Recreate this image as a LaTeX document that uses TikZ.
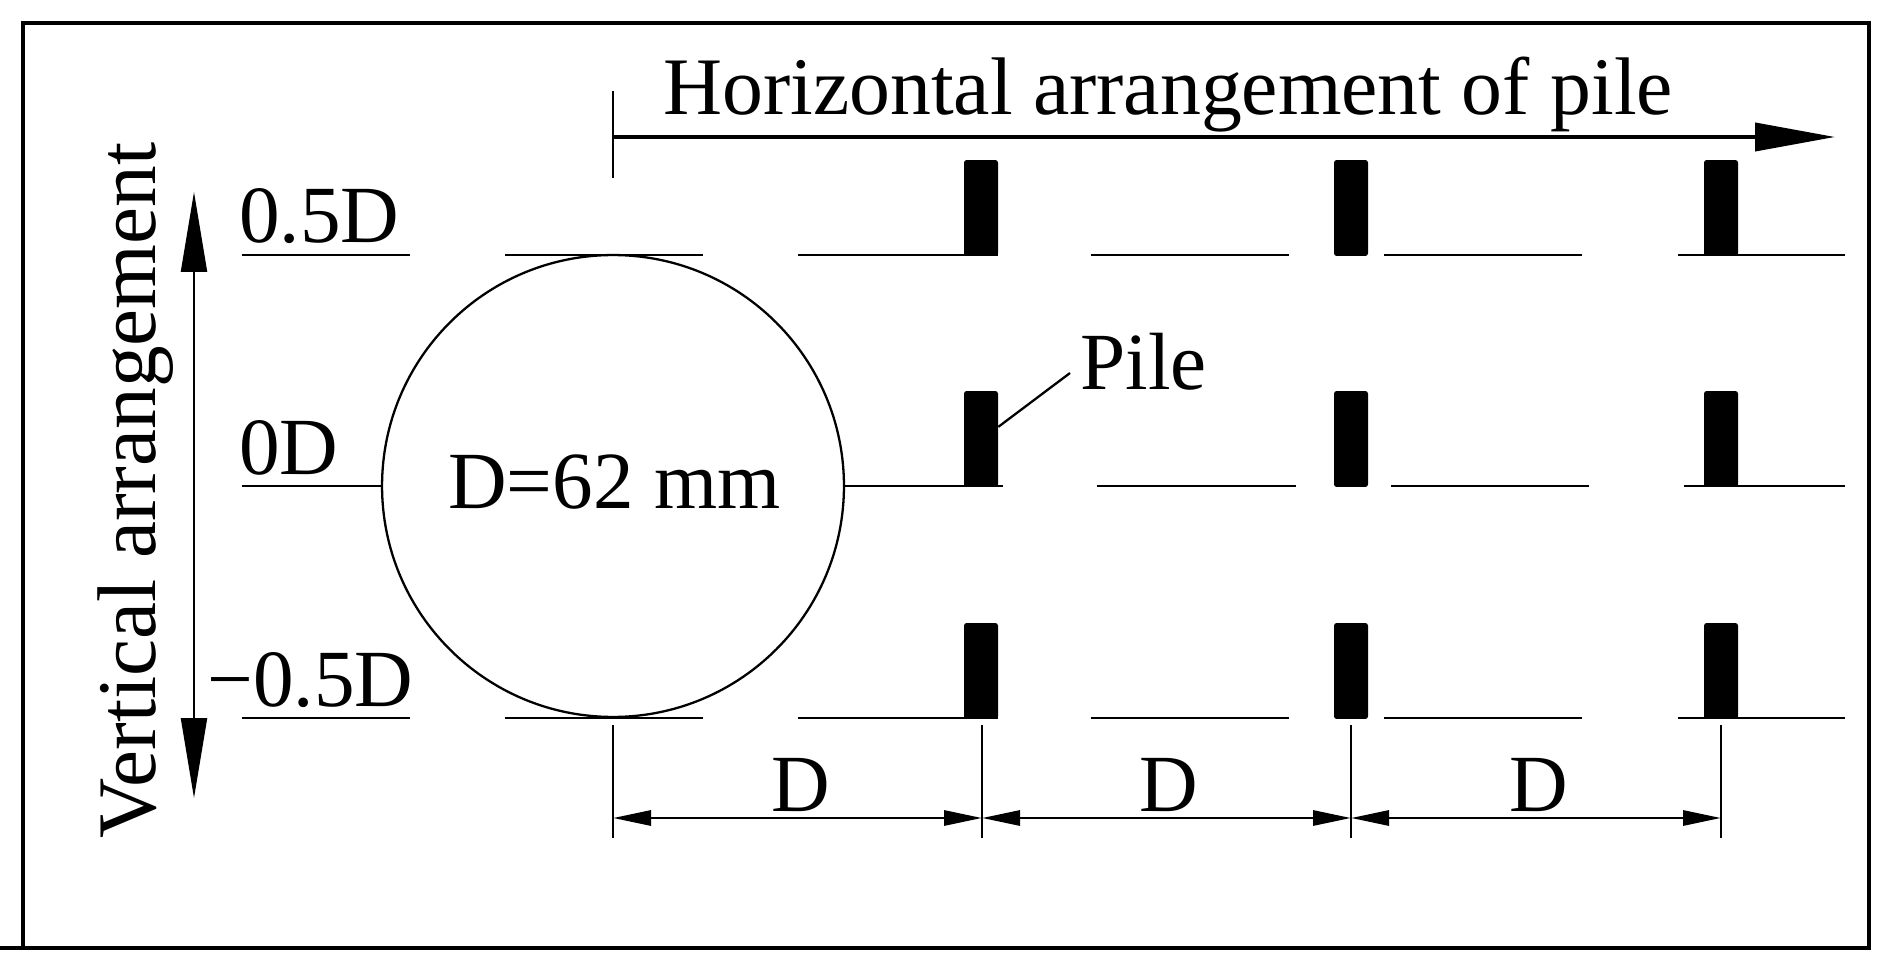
\documentclass[tikz,border=0pt]{standalone}
\usepackage{fontspec}
\setmainfont{Liberation Serif}
\usetikzlibrary{arrows.meta}
\tikzset{
  lab/.style={anchor=base west,inner sep=0pt,font=\fontsize{46.2}{50}\selectfont},
  pilebar/.style={fill=black,inner sep=0pt,rounded corners=1.5pt,minimum width=.68cm,minimum height=1.92cm},
  dimtip/.style={{Triangle[length=.76cm,width=.3cm]}-{Triangle[length=.76cm,width=.3cm]}},
  thinline/.style={line width=1.3pt},
  midline/.style={line width=1.7pt},
}
\begin{document}
\begin{tikzpicture}[x=.02cm,y=-.02cm]
        \useasboundingbox (0,0) rectangle (1893,979);
        % frame
        \draw[line width=2pt] (0,948) to (1869,948) to (1869,23) to (23,23) to (23,948);
        % big arrows
        \coordinate (hstart) at (613,137);
        \coordinate (hend) at (1835,137);
        \draw[thinline] (613,91) to (613,178);
        \draw[-{Triangle[length=1.6cm,width=.56cm]},line width=2.2pt] (hstart) to (hend);
        \coordinate (vtop) at (194,192);
        \coordinate (vbot) at (194,798);
        \draw[thinline,{Triangle[length=1.6cm,width=.52cm]}-{Triangle[length=1.6cm,width=.52cm]}] (vtop) to (vbot);
        % cylinder
        \node[draw,circle,thinline,inner sep=0pt,minimum size=9.24cm] (ball) at (613,486) {};
        % level lines
        \foreach \y in {255,718}{
          \draw[midline] (242,\y) to (410,\y);
          \draw[midline] (505,\y) to (703,\y);
          \draw[midline] (798,\y) to (998,\y);
          \draw[midline] (1091,\y) to (1289,\y);
          \draw[midline] (1384,\y) to (1582,\y);
          \draw[midline] (1678,\y) to (1845,\y);
        }
        \draw[midline] (242,486) to (ball.west);
        \draw[midline] (ball.east) to (1003,486);
        \draw[midline] (1097,486) to (1296,486);
        \draw[midline] (1391,486) to (1589,486);
        \draw[midline] (1684,486) to (1845,486);
        % piles
        \foreach \x/\i in {981/1,1351/2,1721/3}
          \foreach \y/\j in {208/1,439/2,671/3}
            \node[pilebar] (p\i\j) at (\x,\y) {};
        \coordinate (leadend) at (1070,373);
        \draw[thinline] (p12.35) to (leadend);
        % spacing dimensions
        \foreach \x/\n in {613/0,982/1,1351/2,1721/3}{
          \coordinate (d\n) at (\x,818);
          \draw[thinline] (\x,725) to (\x,838);
        }
        \draw[midline,dimtip] (d0) to (d1);
        \draw[midline,dimtip] (d1) to (d2);
        \draw[midline,dimtip] (d2) to (d3);
        % texts
        \node[lab,font=\fontsize{46.5}{50}\selectfont] (htext) at (663,115) {Horizontal arrangement of pile};
        \node[lab,rotate=90,font=\fontsize{47.4}{50}\selectfont] (vtext) at (155,839) {Vertical arrangement};
        \node[lab] (top) at (239,243) {0.5D};
        \node[lab] (mid) at (239,475) {0D};
        \node[lab] (low) at (207,706) {−0.5D};
        \node[lab] (dia) at (448,509) {D=62 mm};
        \node[lab] (piletext) at (1080,390) {Pile};
        \node[lab] (s1) at (771,811) {D};
        \node[lab] (s2) at (1139,811) {D};
        \node[lab] (s3) at (1509,811) {D};
\end{tikzpicture}
\end{document}
